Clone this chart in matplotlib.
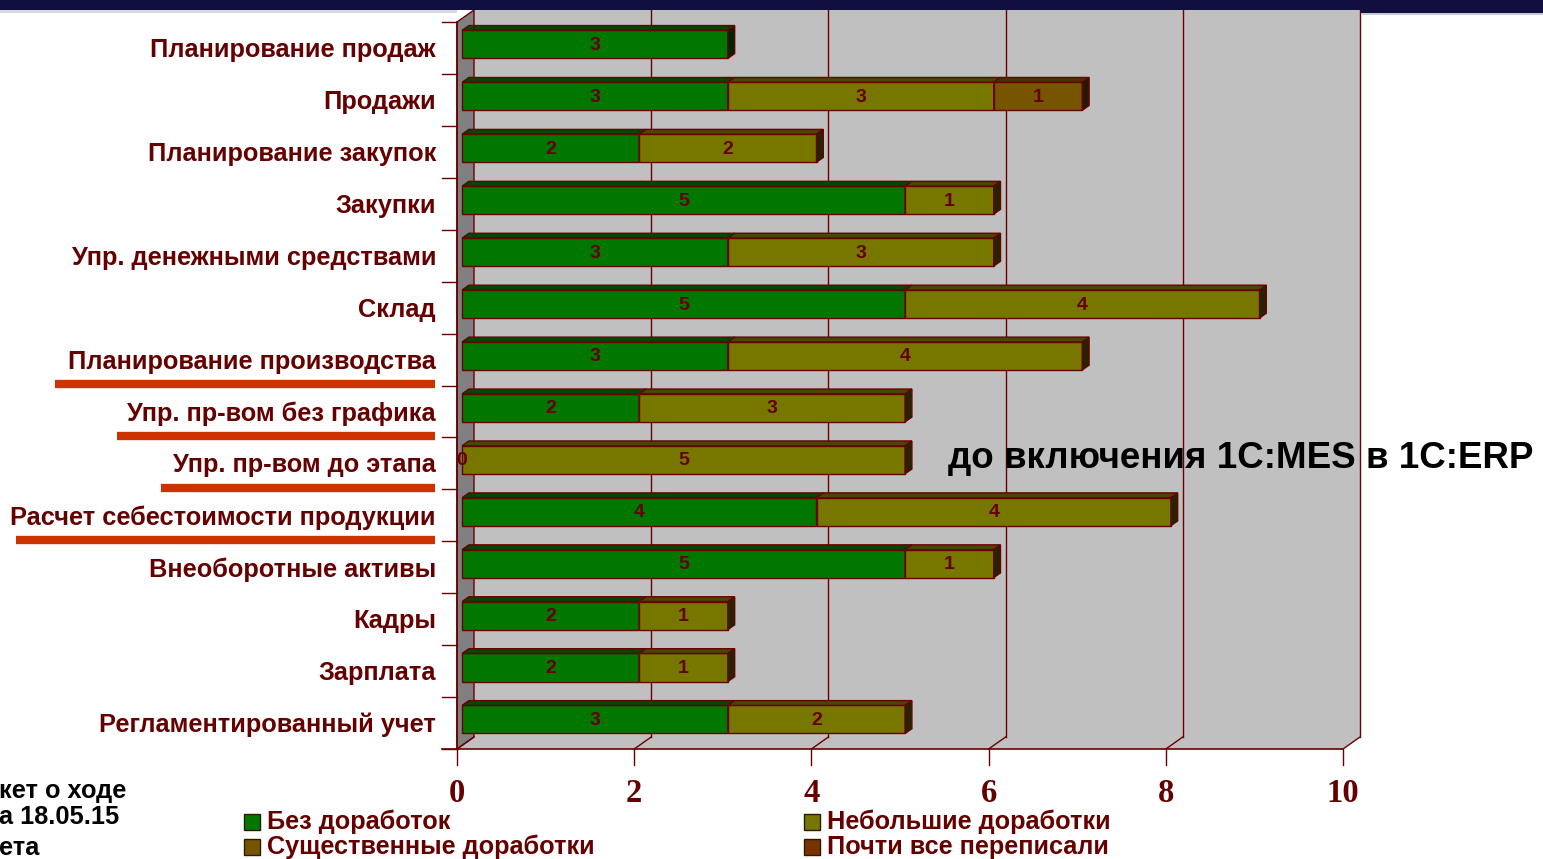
import numpy as np
import matplotlib
matplotlib.use("Agg")
import matplotlib.pyplot as plt
from matplotlib.patches import Polygon, Rectangle

plt.rcParams["font.family"] = ["Liberation Sans", "DejaVu Sans"]

# ── данные ──────────────────────────────────────────────
categories = [
    "Планирование продаж", "Продажи", "Планирование закупок", "Закупки",
    "Упр. денежными средствами", "Склад", "Планирование производства",
    "Упр. пр-вом без графика", "Упр. пр-вом до этапа",
    "Расчет себестоимости продукции", "Внеоборотные активы", "Кадры",
    "Зарплата", "Регламентированный учет",
]
nan = np.nan
no_changes    = [3, 3, 2, 5, 3, 5, 3, 2, 0, 4, 5, 2, 2, 3]
minor_changes = [nan, 3, 2, 1, 3, 4, 4, 3, 5, 4, 1, 1, 1, 2]
major_changes = [nan, 1, nan, nan, nan, nan, nan, nan, nan, nan, nan, nan, nan, nan]
rewritten     = [nan] * 14
series_names = ["Без доработок", "Небольшие доработки",
                "Существенные доработки", "Почти все переписали"]
highlighted = ["Планирование производства", "Упр. пр-вом без графика",
               "Упр. пр-вом до этапа", "Расчет себестоимости продукции"]
x_ticks = [0, 2, 4, 6, 8, 10]
side_note = ["кет о ходе", "а 18.05.15", "ета"]
caption = "до включения 1С:MES в 1С:ERP"

# ── стиль ───────────────────────────────────────────────
C_SERIES = ["#007700", "#777700", "#775500", "#773300"]
C_EDGE = "#6b0000"
C_TEXT = "#660000"
C_WALL = "#c0c0c0"
C_SIDE = "#808080"
C_LINE = "#cc3300"

W, H = 1543, 859
PX_L, PX_R, PX_T, PX_B = 457, 1343, 22, 749
N = len(categories)
UX = (PX_R - PX_L) / 10.0          # пикселей на единицу
UY = (PX_B - PX_T) / N             # пикселей на строку
DX, DY = 17 / UX, 12 / UY          # глубина 3D
D0, D1 = 0.3, 0.7                  # передняя/задняя грань столбиков
BH = 0.54


def proj(x, y, d):
    return (x + d * DX, y + d * DY)


def shade(c, f):
    r, g, b = matplotlib.colors.to_rgb(c)
    return (r * f, g * f, b * f)


fig = plt.figure(figsize=(W / 100, H / 100), dpi=100)
fig.patch.set_facecolor("white")
ax = fig.add_axes([PX_L / W, 1 - PX_B / H, (PX_R - PX_L) / W, (PX_B - PX_T) / H])
ax.set_xlim(0, 10)
ax.set_ylim(0, N)
ax.axis("off")


def poly(pts, fc, ec=C_EDGE, lw=1.0, z=1):
    ax.add_patch(Polygon(pts, closed=True, facecolor=fc, edgecolor=ec,
                         linewidth=lw, clip_on=False, zorder=z))


# стенки
poly([proj(0, 0, 1), proj(10, 0, 1), proj(10, N, 1), proj(0, N, 1)], C_WALL, ec="none", z=0)
poly([proj(0, 0, 0), proj(10, 0, 0), proj(10, 0, 1), proj(0, 0, 1)], C_WALL, ec="none", z=0)
poly([proj(0, 0, 0), proj(0, 0, 1), proj(0, N, 1), proj(0, N, 0)], C_SIDE, ec=C_EDGE, z=1)

tick_len = 16 / UY
for v in x_ticks:
    bx, by = proj(v, 0, 1)
    tx, ty = proj(v, N, 1)
    if v > 0:
        ax.plot([bx, tx], [by, ty], color=C_EDGE, lw=1.0, clip_on=False, zorder=1)
    ax.plot([v, bx], [0, by], color=C_EDGE, lw=1.0, clip_on=False, zorder=1)
    ax.plot([v, v], [0, -tick_len], color=C_EDGE, lw=1.0, clip_on=False, zorder=1)
    ax.text(v, -45 / UY, str(v), ha="center", va="center", fontsize=23.5,
            fontweight="bold", color=C_TEXT, family="Liberation Serif")

left_tick = 15 / UX
ax.plot([-left_tick, 10], [0, 0], color=C_EDGE, lw=1.2, clip_on=False, zorder=2)
ax.plot([0, 0], [0, N], color=C_EDGE, lw=1.2, clip_on=False, zorder=2)
for k in range(N + 1):
    ax.plot([-left_tick, 0], [k, k], color=C_EDGE, lw=1.0, clip_on=False, zorder=2)

# столбики
series = [no_changes, minor_changes, major_changes, rewritten]
for i, cat in enumerate(categories):
    yc = N - 0.5 - i
    yb, yt = yc - BH / 2, yc + BH / 2
    x0 = 0.0
    for s, vals in enumerate(series):
        v = vals[i]
        if np.isnan(v):
            continue
        x1 = x0 + v
        lx, ly = proj((x0 + x1) / 2, yc, D0)
        if v > 0:
            col = C_SERIES[s]
            poly([proj(x0, yb, D0), proj(x1, yb, D0), proj(x1, yt, D0), proj(x0, yt, D0)], col, z=3)
            poly([proj(x0, yt, D0), proj(x1, yt, D0), proj(x1, yt, D1), proj(x0, yt, D1)],
                 shade(col, 0.6), z=3)
            poly([proj(x1, yb, D0), proj(x1, yb, D1), proj(x1, yt, D1), proj(x1, yt, D0)],
                 shade(col, 0.3), z=3)
        ax.text(lx, ly - 0.02, f"{v:g}", ha="center", va="center", fontsize=14,
                fontweight="bold", color=C_TEXT, zorder=5, clip_on=False)
        x0 = x1

    ax.text(-21 / UX, yc - 0.04, cat, ha="right", va="center", fontsize=18.3,
            fontweight="bold", color=C_TEXT)

# подчеркивания
underline_start_px = {
    "Планирование производства": 55,
    "Упр. пр-вом без графика": 117,
    "Упр. пр-вом до этапа": 161,
    "Расчет себестоимости продукции": 16,
}
for cat in highlighted:
    i = categories.index(cat)
    yl = N - 1 - i + 0.03
    x_start = -(PX_L - underline_start_px[cat]) / UX
    ax.plot([x_start, -22 / UX], [yl, yl], color=C_LINE, lw=6.0,
            solid_capstyle="butt", clip_on=False, zorder=2)

# ── оформление слайда ──────────────────────────────────
def fx(px):
    return px / W


def fy(py):
    return 1 - py / H


fig.add_artist(Rectangle((0, fy(10)), 1, fy(0) - fy(10), transform=fig.transFigure,
                         facecolor="#110e40", edgecolor="none", zorder=10))
fig.add_artist(Rectangle((fx(1361), fy(13)), 1 - fx(1361), fy(10) - fy(13),
                         transform=fig.transFigure, facecolor="#110e40",
                         edgecolor="none", zorder=10))
fig.add_artist(Rectangle((fx(1361), fy(15)), 1 - fx(1361), fy(13) - fy(15),
                         transform=fig.transFigure, facecolor="#c4c8dc",
                         edgecolor="none", zorder=10))
fig.add_artist(Rectangle((0, fy(13)), fx(457), fy(10) - fy(13),
                         transform=fig.transFigure, facecolor="#d8d8e0",
                         edgecolor="none", zorder=10))

fig.text(fx(1241), fy(458), caption, ha="center", va="center", fontsize=26.5,
         fontweight="bold", color="black")

for k, line in enumerate(side_note):
    fig.text(fx(-1), fy([791, 817, 848][k]), line, ha="left", va="center",
             fontsize=18.3, fontweight="bold", color="black")

# легенда
legend_pos = [(244, 822), (804, 822), (244, 847), (804, 847)]
for (lx, ly), name, col in zip(legend_pos, series_names, C_SERIES):
    fig.add_artist(Rectangle((fx(lx), fy(ly + 8)), fx(16), 16 / H,
                             transform=fig.transFigure, facecolor=col,
                             edgecolor="#2a1a00", linewidth=1.0))
    fig.text(fx(lx + 23), fy(ly), name, ha="left", va="center", fontsize=18.2,
             fontweight="bold", color=C_TEXT)

fig.savefig("out.png", dpi=100)
